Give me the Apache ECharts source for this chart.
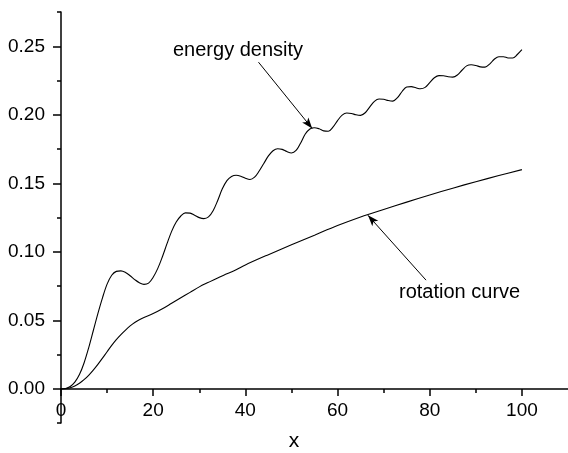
<!DOCTYPE html>
<html><head><meta charset="utf-8">
<script src="https://cdn.jsdelivr.net/npm/echarts@6/dist/echarts.min.js"></script>
<style>html,body{margin:0;padding:0;background:#fff}#c{width:568px;height:453px}</style>
</head><body><div id="c"></div>
<script>
// ---- data ----
const energyDensity = [[0,0],[1,0.0004],[2,0.0018],[3,0.0050],[4,0.0105],[5,0.0190],[6,0.0300],[7,0.0425],[8,0.0550],[9,0.0665],[10,0.0765],[11,0.0830],[12,0.0858],[13,0.0862],[14,0.0850],[15,0.0826],[16,0.0798],[17,0.0775],[18,0.0763],[19,0.0772],[20,0.0815],[21,0.0880],[22,0.0965],[23,0.1060],[24,0.1150],[25,0.1218],[26,0.1262],[27,0.1285],[28,0.1283],[29,0.1268],[30,0.1250],[31,0.1243],[32,0.1255],[33,0.1300],[34,0.1375],[35,0.1460],[36,0.1520],[37,0.1550],[38,0.1559],[39,0.1552],[40,0.1537],[41,0.1528],[42,0.1545],[43,0.1590],[44,0.1645],[45,0.1700],[46,0.1738],[47,0.1753],[48,0.1748],[49,0.1732],[50,0.1722],[51,0.1740],[52,0.1795],[53,0.1860],[54,0.1897],[55,0.1906],[56,0.1898],[57,0.1883],[58,0.1880],[59,0.1910],[60,0.1958],[61,0.1998],[62,0.2013],[63,0.2010],[64,0.2000],[65,0.1996],[66,0.2015],[67,0.2058],[68,0.2098],[69,0.2115],[70,0.2113],[71,0.2104],[72,0.2100],[73,0.2125],[74,0.2170],[75,0.2203],[76,0.2206],[77,0.2197],[78,0.2190],[79,0.2200],[80,0.2235],[81,0.2270],[82,0.2286],[83,0.2285],[84,0.2278],[85,0.2275],[86,0.2290],[87,0.2325],[88,0.2357],[89,0.2365],[90,0.2360],[91,0.2350],[92,0.2348],[93,0.2370],[94,0.2405],[95,0.2424],[96,0.2424],[97,0.2415],[98,0.2414],[99,0.2440],[100,0.2475]];
const rotationCurve = [[0,0],[1,0.0002],[2,0.0009],[3,0.0022],[4,0.0042],[5,0.0068],[6,0.0100],[7,0.0138],[8,0.0180],[9,0.0225],[10,0.0272],[11,0.0318],[12,0.0360],[13,0.0397],[14,0.0430],[15,0.0460],[16,0.0485],[17,0.0505],[18,0.0522],[20,0.0550],[22,0.0585],[24,0.0625],[26,0.0665],[28,0.0705],[30,0.0745],[32,0.0778],[34,0.0810],[36,0.0840],[38,0.0870],[40,0.0905],[45,0.0980],[50,0.1052],[55,0.1122],[60,0.1192],[65,0.1255],[70,0.1310],[75,0.1363],[80,0.1415],[85,0.1465],[90,0.1512],[95,0.1557],[100,0.1600]];
const xMajorTicks = [0,20,40,60,80,100];
const xMinorTicks = [10,30,50,70,90];
const yMajorTicks = [0,0.05,0.10,0.15,0.20,0.25];
const yMinorTicks = [0.025,0.075,0.125,0.175,0.225,0.275];
const yBelowTicks = [-0.025];
const energyArrow = [[42.85,0.2384],[54.5,0.1900]];
const rotationArrow = [[79.2,0.0794],[66.6,0.1267]];
const annotationTexts = ['energy density','rotation curve'];
const xAxisTitle = 'x';

// ---- chart ----
const FONT = '"Liberation Sans", Arial, sans-serif';
const black = '#000';
const chart = echarts.init(document.getElementById('c'), null, {renderer:'canvas'});
const axLine = {color:black, width:1.5};
const plotW = 513.3;
chart.setOption({
  animation:false,
  backgroundColor:'#fff',
  grid:[
    {left:61, top:12, width:plotW, height:377, containLabel:false},
    {left:61, top:389, width:plotW, height:34, containLabel:false}
  ],
  xAxis:[{
    gridIndex:0, type:'value', min:0, max:110, position:'bottom',
    axisLine:{show:true, onZero:false, lineStyle:axLine},
    axisTick:{show:true, inside:false, length:7, customValues:xMajorTicks, lineStyle:axLine},
    axisLabel:{customValues:xMajorTicks, margin:12, fontSize:19, color:black, fontFamily:FONT},
    splitLine:{show:false}
  },{
    gridIndex:0, type:'value', min:0, max:110, position:'bottom',
    axisLine:{show:false, onZero:false},
    axisTick:{show:true, inside:false, length:4, customValues:xMinorTicks, lineStyle:axLine},
    axisLabel:{show:false}, splitLine:{show:false}
  },{
    gridIndex:1, type:'value', min:0, max:110, show:false
  }],
  yAxis:[{
    gridIndex:0, type:'value', min:0, max:0.275, position:'left',
    axisLine:{show:true, onZero:false, lineStyle:axLine},
    axisTick:{show:true, inside:false, length:8, customValues:yMajorTicks, lineStyle:axLine},
    axisLabel:{customValues:yMajorTicks, formatter:v=>v.toFixed(2), margin:16, fontSize:19, color:black, fontFamily:FONT},
    splitLine:{show:false}
  },{
    gridIndex:0, type:'value', min:0, max:0.275, position:'left', offset:0,
    axisLine:{show:false, onZero:false},
    axisTick:{show:true, inside:false, length:4, customValues:yMinorTicks, lineStyle:axLine},
    axisLabel:{show:false}, splitLine:{show:false}
  },{
    gridIndex:1, type:'value', min:-0.025, max:0, position:'left',
    axisLine:{show:true, onZero:false, lineStyle:axLine},
    axisTick:{show:true, inside:false, length:4, customValues:yBelowTicks, lineStyle:axLine},
    axisLabel:{show:false}, splitLine:{show:false}
  }],
  series:[{
    name:annotationTexts[0], type:'line', data:energyDensity, xAxisIndex:0, yAxisIndex:0,
    showSymbol:false, smooth:0.35, lineStyle:{color:black, width:1.1}, z:3,
    markLine:{silent:true, symbol:['none','arrow'], symbolSize:[6,11], label:{show:false},
      lineStyle:{color:black, width:1, type:'solid'},
      data:[[{coord:energyArrow[0]},{coord:energyArrow[1]}]]}
  },{
    name:annotationTexts[1], type:'line', data:rotationCurve, xAxisIndex:0, yAxisIndex:0,
    showSymbol:false, smooth:0.35, lineStyle:{color:black, width:1.1}, z:3,
    markLine:{silent:true, symbol:['none','arrow'], symbolSize:[6,11], label:{show:false},
      lineStyle:{color:black, width:1, type:'solid'},
      data:[[{coord:rotationArrow[0]},{coord:rotationArrow[1]}]]}
  }],
  graphic:[
    {type:'text', x:173, y:50.5, style:{text:annotationTexts[0], fontSize:20, fontFamily:FONT, fill:black, align:'left', verticalAlign:'middle'}},
    {type:'text', x:399, y:292.5, style:{text:annotationTexts[1], fontSize:20, fontFamily:FONT, fill:black, align:'left', verticalAlign:'middle'}},
    {type:'text', x:294, y:441, style:{text:xAxisTitle, fontSize:21, fontFamily:FONT, fill:black, align:'center', verticalAlign:'middle'}}
  ]
});
</script></body></html>
